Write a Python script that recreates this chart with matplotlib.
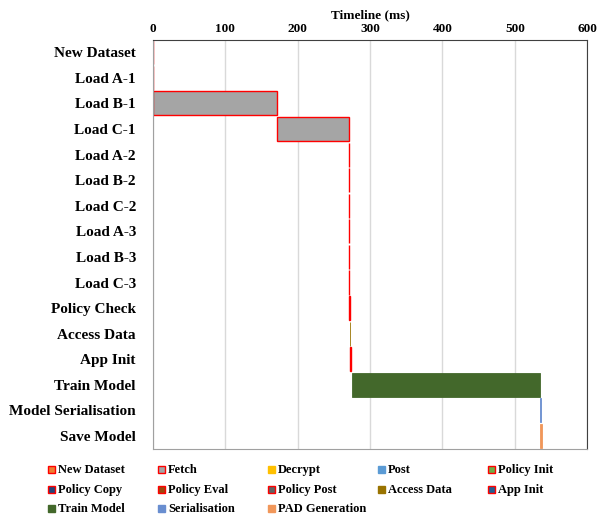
import matplotlib
matplotlib.use("Agg")
import matplotlib.pyplot as plt
from matplotlib.patches import Rectangle

# rows of the timeline (top to bottom)
tasks = ["New Dataset", "Load A-1", "Load B-1", "Load C-1", "Load A-2", "Load B-2",
         "Load C-2", "Load A-3", "Load B-3", "Load C-3", "Policy Check", "Access Data",
         "App Init", "Train Model", "Model Serialisation", "Save Model"]
starts = [0, 0, 0, 171, 271, 271, 271, 271, 271, 271, 271, 272, 273, 275, 535, 535]
durations = [0.3, 0.2, 171, 100, 0.3, 0.3, 0.3, 0.3, 0.3, 0.3, 2.0, 0.8, 0.6, 260, 0.6, 2.0]
phases = ["New Dataset", "Fetch", "Fetch", "Fetch", "Fetch", "Fetch", "Fetch", "Fetch",
          "Fetch", "Fetch", "Policy Eval", "Access Data", "App Init", "Train Model",
          "Serialisation", "PAD Generation"]

series = ["New Dataset", "Fetch", "Decrypt", "Post", "Policy Init", "Policy Copy",
          "Policy Eval", "Policy Post", "Access Data", "App Init", "Train Model",
          "Serialisation", "PAD Generation"]
fills = ["#ED7D31", "#A5A5A5", "#FFC000", "#5B9BD5", "#70AD47", "#264478",
         "#9E480E", "#636363", "#997300", "#255E91", "#43682B", "#698ED0", "#F1975A"]
red_edge = {"New Dataset", "Fetch", "Policy Init", "Policy Copy", "Policy Eval",
            "Policy Post", "App Init"}

plt.rcParams["font.family"] = ["Liberation Serif", "DejaVu Serif"]
plt.rcParams["font.weight"] = "bold"

W, H = 613, 520
fig = plt.figure(figsize=(W / 100, H / 100), dpi=100)
ax = fig.add_axes([0.249, 0.137, 0.709, 0.787])

color_of = dict(zip(series, fills))
n = len(tasks)
ys = list(range(n))
for y, s, d, p in zip(ys, starts, durations, phases):
    if p in red_edge:
        ax.barh(y, d, left=s, height=0.94, color=color_of[p], edgecolor="red", linewidth=1.0)
    else:
        ax.barh(y, d, left=s, height=0.94, color=color_of[p], edgecolor=color_of[p], linewidth=0.6)

ax.set_xlim(0, 600)
ax.set_ylim(n - 0.5, -0.5)
ax.set_yticks(ys)
ax.set_yticklabels(tasks, fontsize=11, fontweight="bold")
ax.xaxis.tick_top()
ax.xaxis.set_label_position("top")
ax.set_xticks(range(0, 601, 100))
ax.tick_params(axis="x", labelsize=9.5, length=0, pad=3)
ax.tick_params(axis="y", length=0, pad=12)
ax.set_xlabel("Timeline (ms)", fontsize=9.5, fontweight="bold", labelpad=4)
ax.grid(axis="x", color="#D9D9D9", linewidth=1)
ax.set_axisbelow(True)
for side in ["top", "right"]:
    ax.spines[side].set_color("#404040")
for side in ["left", "bottom"]:
    ax.spines[side].set_color("#A0A0A0")

# legend: 5 equally spaced columns, filled row by row (drawn by hand so rows share a baseline)
ncol = 5
row_y = [469, 489, 508]
for i, (s, c) in enumerate(zip(series, fills)):
    r, k = divmod(i, ncol)
    x0 = 48 + 110 * k
    yc = row_y[r]
    fig.add_artist(Rectangle((x0 / W, 1 - (yc + 3.5) / H), 7 / W, 7 / H,
                             transform=fig.transFigure, facecolor=c,
                             edgecolor="red" if s in red_edge else c, linewidth=1.0))
    fig.text((x0 + 10) / W, 1 - (yc + 4) / H, s, ha="left", va="baseline",
             fontsize=9, fontweight="bold")

fig.savefig("out.png", dpi=100)
